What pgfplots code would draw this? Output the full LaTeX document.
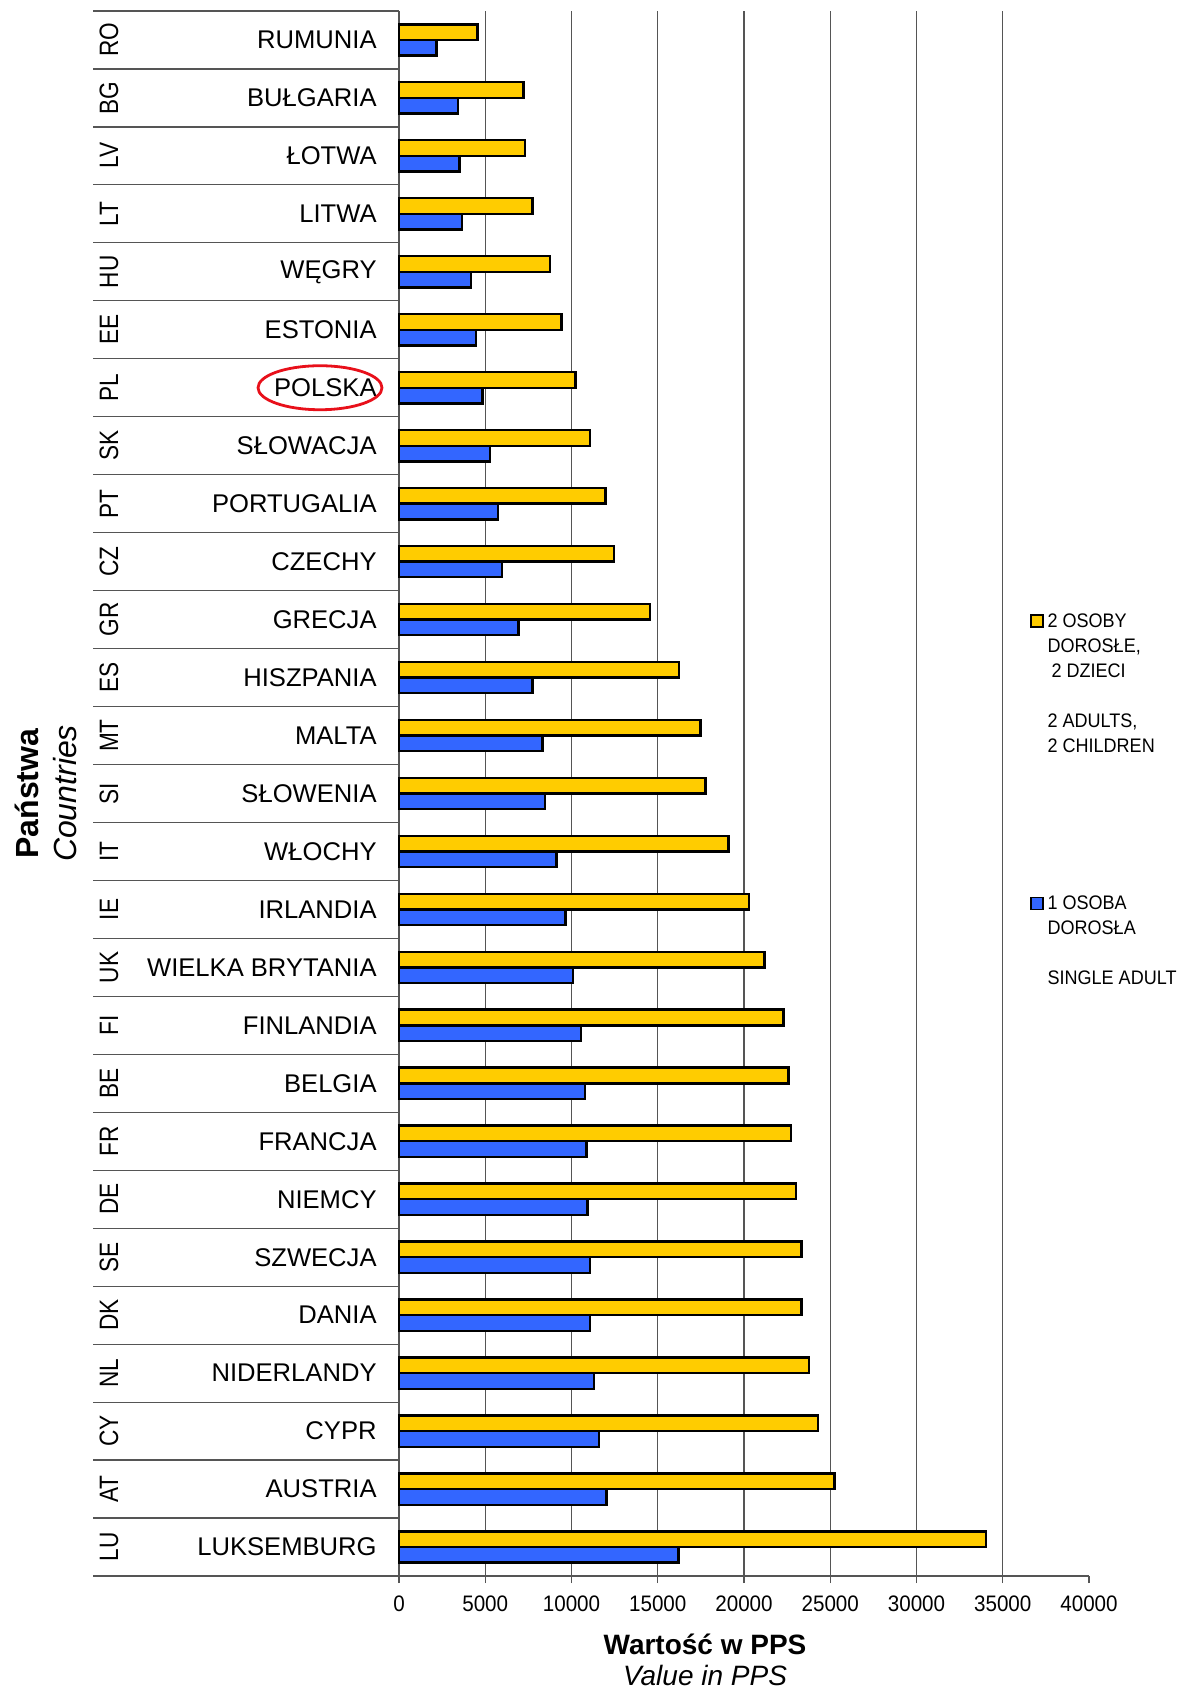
\documentclass[border=0pt]{standalone}
\usepackage{fontspec}
\setmainfont{Liberation Sans}
\newfontfamily\narrowfont[FakeStretch=0.92]{Liberation Sans}
\newfontfamily\codefont[FakeStretch=0.85]{Liberation Sans}
\usepackage{pgfplots}
\usepackage{pgfplotstable}
\pgfplotsset{compat=1.18}
\definecolor{ybar}{HTML}{FFCC00}
\definecolor{bbar}{HTML}{3366FF}
\definecolor{gridc}{HTML}{555555}
\definecolor{ringred}{HTML}{E8101A}
\pgfplotstableread{
y adults single
1 34030 16200
2 25250 12030
3 24290 11590
4 23780 11290
5 23330 11070
6 23330 11070
7 23030 10930
8 22730 10860
9 22590 10770
10 22290 10560
11 21180 10080
12 20290 9660
13 19100 9140
14 17770 8460
15 17480 8310
16 16240 7730
17 14540 6920
18 12460 5970
19 11980 5730
20 11060 5290
21 10240 4850
22 9430 4480
23 8770 4180
24 7730 3660
25 7290 3500
26 7210 3430
27 4560 2180
}\data
\tikzset{codelbl/.style={rotate=90, anchor=center, inner sep=0pt, font=\codefont\fontsize{13.3}{14}\selectfont}}
\begin{document}
\begin{tikzpicture}
\path[use as bounding box] (0,0) rectangle (591.5pt,845pt);
\begin{axis}[
  at={(199.5pt,57pt)}, anchor=south west,
  scale only axis, width=345pt, height=782.5pt,
  xmin=0, xmax=40000, ymin=0.5, ymax=27.5,
  axis lines*=left,
  axis line style={gridc, line width=0.7pt},
  xbar, bar width=0.27,
  xtick={0,5000,...,35000},
  extra x ticks={40000},
  extra x tick style={grid=none},
  xmajorgrids,
  major grid style={gridc, line width=0.6pt},
  xtick align=outside, ytick align=inside,
  major tick length=3.5pt,
  xtick style={gridc, line width=0.6pt},
  xticklabel style={font=\narrowfont\fontsize{11.2}{12}\selectfont, inner sep=0pt, anchor=north, yshift=-6pt},
  /pgf/number format/assume math mode=true,
  /pgf/number format/set thousands separator={},
  scaled x ticks=false,
  ytick={1,...,27},
  yticklabels={LUKSEMBURG,AUSTRIA,CYPR,NIDERLANDY,DANIA,SZWECJA,NIEMCY,FRANCJA,BELGIA,FINLANDIA,WIELKA BRYTANIA,IRLANDIA,WŁOCHY,SŁOWENIA,MALTA,HISZPANIA,GRECJA,CZECHY,PORTUGALIA,SŁOWACJA,POLSKA,ESTONIA,WĘGRY,LITWA,ŁOTWA,BUŁGARIA,RUMUNIA},
  ytick style={draw=none},
  yticklabel style={font=\fontsize{12.8}{14}\selectfont, inner sep=0pt, anchor=east, xshift=-11pt},
  xlabel={\textbf{Wartość w PPS}\\\textit{Value in PPS}},
  every axis x label/.style={at={(axis description cs:0.4435,-0.0535)}, anchor=center, align=center, font=\fontsize{14}{15.5}\selectfont},
  ylabel={\textbf{Państwa}\\\textit{Countries}},
  every axis y label/.style={at={(axis description cs:-0.5116,0.5)}, rotate=90, anchor=center, align=center, font=\fontsize{16}{19}\selectfont},
  legend style={at={(axis description cs:0.9145,0.615)}, anchor=north west, draw=none, fill=none, inner sep=0pt, outer sep=0pt, row sep=70.5pt, column sep=2pt, font=\narrowfont\fontsize{9.8}{12.5}\selectfont, nodes={align=left, anchor=north west, inner sep=0pt}},
  legend cell align=left,
  clip=false,
]
\addplot[fill=ybar, draw=black, line width=1.2pt, bar shift=0.135,
  legend image code/.code={\draw[fill=ybar, draw=black, line width=0.8pt] (0pt,-0.6pt) rectangle (6pt,-6.6pt);}]
  table[x=adults, y=y] {\data};
\addlegendentry{2 OSOBY\\DOROSŁE,\\\hspace{2pt}2 DZIECI\\[12.5pt]2 ADULTS,\\2 CHILDREN}
\addplot[fill=bbar, draw=black, line width=1.2pt, bar shift=-0.135,
  legend image code/.code={\draw[fill=bbar, draw=black, line width=0.8pt] (0pt,-0.6pt) rectangle (6pt,-6.6pt);}]
  table[x=single, y=y] {\data};
\addlegendentry{1 OSOBA\\DOROSŁA\\[12.5pt]SINGLE ADULT}
\foreach \yy in {0.5,1.5,...,27.5} {
  \edef\temp{\noexpand\draw[gridc, line width=0.6pt] (axis cs:0,\yy) -- ++(-153pt,0pt);}
  \temp
}
\foreach \yy/\cc in {1/LU,2/AT,3/CY,4/NL,5/DK,6/SE,7/DE,8/FR,9/BE,10/FI,11/UK,12/IE,13/IT,14/SI,15/MT,16/ES,17/GR,18/CZ,19/PT,20/SK,21/PL,22/EE,23/HU,24/LT,25/LV,26/BG,27/RO} {
  \edef\temp{\noexpand\node[codelbl] at ([xshift=-145pt]axis cs:0,\yy) {\cc};}
  \temp
}
\draw[ringred, line width=1.4pt] ([xshift=-39.5pt]axis cs:0,21) ellipse [x radius=31pt, y radius=11pt];
\end{axis}
\end{tikzpicture}
\end{document}
